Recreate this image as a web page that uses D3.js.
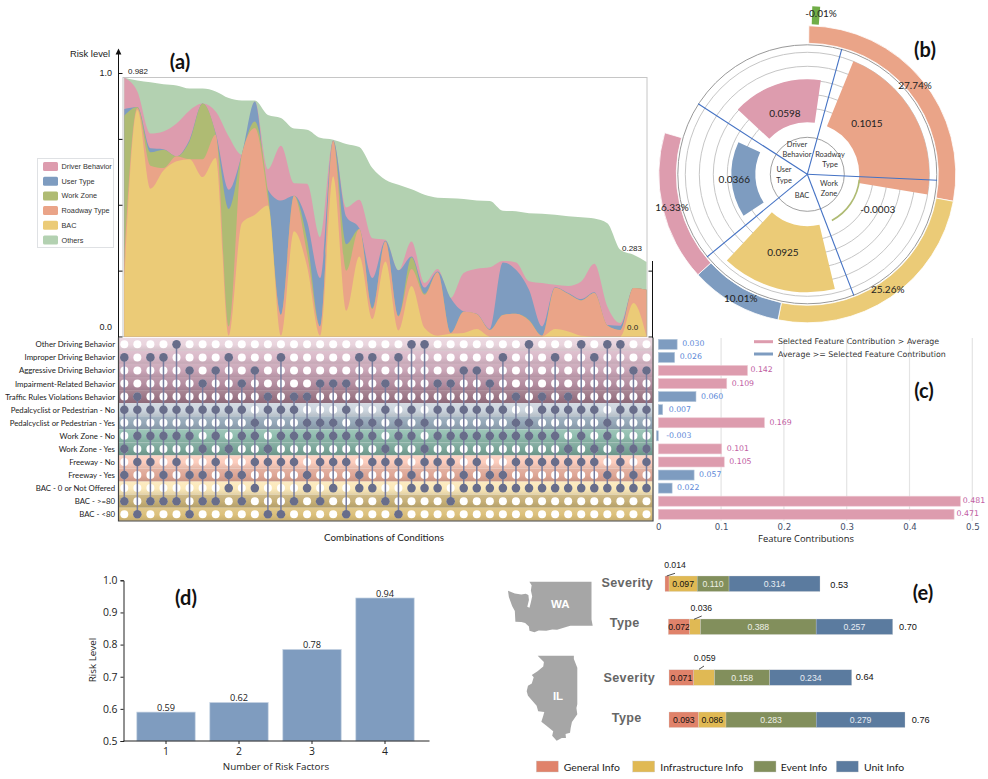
<!DOCTYPE html>
<html><head><meta charset="utf-8">
<script src="https://cdn.jsdelivr.net/npm/d3@7/dist/d3.min.js"></script>
<style>html,body{margin:0;padding:0;background:#fff}svg{display:block}</style>
</head><body><svg id="c" width="988" height="779"></svg>
<script>
// ---------- (a) stacked risk contributions: cumulative top of each layer per combination
const seriesNames = ["Driver Behavior","User Type","Work Zone","Roadway Type","BAC","Others"];
const othersTop = [.982,.972,.965,.957,.953,.941,.941,.930,.905,.896,.896,.841,.829,.789,.785,.754,.747,.731,.719,.639,.595,.576,.559,.538,.527,.525,.522,.516,.514,.477,.475,.468,.466,.462,.456,.453,.448,.430,.329,.310,.283];
const driverTop = [.982,.930,.770,.778,.808,.858,.884,.854,.759,.690,.892,.635,.724,.582,.580,.377,.744,.490,.519,.373,.367,.251,.361,.203,.256,.146,.241,.257,.263,.287,.281,.210,.203,.196,.192,.209,.276,.114,.051,.184,.177];
const userTop = [.863,.871,.714,.711,.684,.747,.884,.772,.557,.690,.892,.557,.516,.534,.437,.222,.744,.455,.411,.222,.363,.251,.304,.186,.247,.146,.095,.086,.028,.281,.253,.177,.038,.187,.165,.142,.168,.044,.041,.184,.177];
const workTop = [.838,.871,.699,.709,.684,.741,.884,.768,.484,.690,.816,.551,.082,.534,.367,.038,.741,.350,.408,.108,.361,.078,.301,.162,.244,.013,.094,.085,.025,.082,.086,.063,.003,.185,.162,.137,.165,.042,.025,.184,.177];
const roadTop = [.280,.867,.648,.639,.684,.673,.673,.766,.038,.690,.791,.519,.082,.534,.316,.038,.743,.250,.408,.104,.361,.076,.256,.158,.244,.013,.094,.085,.025,.082,.086,.061,.003,.185,.162,.137,.165,.042,.025,.184,.177];
const bacTop = [.220,.860,.561,.630,.665,.673,.605,.677,.003,.430,.462,.497,.003,.399,.266,.003,.608,.098,.304,.066,.285,.023,.192,.032,.003,.010,.013,.028,0,0,0,0,0,.028,.019,.003,0,0,0,.127,0];

// ---------- matrix of conditions: filled column indexes per row
const conditions = ["Other Driving Behavior","Improper Driving Behavior","Aggressive Driving Behavior","Impairment-Related Behavior","Traffic Rules Violations Behavior","Pedalcyclist or Pedestrian - No","Pedalcyclist or Pedestrian - Yes","Work Zone - No","Work Zone - Yes","Freeway - No","Freeway - Yes","BAC - 0 or Not Offered","BAC - >=80","BAC - <80"];
const filled = [
 [4,22,23,31,35,37,38],
 [0,2,3,8,12,18,19,21,29,33,36],
 [5,7,10,26,27,39,40],
 [6,9,15,16,17,20,24,25,28],
 [1,11,13,14,30,32,34],
 [0,1,2,3,4,5,6,7,8,9,11,12,13,17,20,22,24,25,26,27,28,29,32,33,34,35,36,38,39,40],
 [10,14,15,16,18,19,21,23,30,31,37],
 [1,2,3,4,5,7,9,10,12,13,14,15,16,17,18,19,21,22,24,25,26,27,28,29,30,31,32,33,35,37],
 [0,6,8,11,20,23,34,36,38,39,40],
 [1,2,4,7,10,11,12,13,15,16,17,19,20,21,23,24,25,27,30,31,32,33,34,35,36,38,40],
 [0,3,5,6,8,9,14,18,22,26,28,29,37,39],
 [8,10,14,16,18,19,22,23,24,26,27,28,29,30,31,32,33,34,35,36,37,38,39,40],
 [0,2,3,4,6,7,9,13,15,20,25],
 [1,5,11,12,17,21]
];
const columnCount = 41;

// ---------- (c)
const contributions = [.030,.026,.142,.109,.060,.007,.169,-.003,.101,.105,.057,.022,.481,.471];
const contribTicks = [0,.1,.2,.3,.4,.5];
const contribAvgFlag = [0,0,1,1,0,0,1,0,1,1,0,0,1,1];

// ---------- (b)
const polarNames = ["Roadway Type","Work Zone","BAC","User Type","Driver Behavior"];
const polarValues = [.1015,-.0003,.0925,.0366,.0598];
const ringShare = [27.74,25.26,10.01,16.33];
const ringTail = -0.01;

// ---------- (d)
const riskFactors = ["1","2","3","4"];
const riskLevels = [.59,.62,.785,.945];
const riskLabels = ["0.59","0.62","0.78","0.94"];

// ---------- (e)
const infoNames = ["General Info","Infrastructure Info","Event Info","Unit Info"];
const waSeverity = [.014,.097,.110,.314];
const waType = [.072,.036,.388,.257];
const ilSeverity = [.071,.059,.158,.234];
const ilType = [.093,.086,.283,.279];
const totals = ["0.53","0.70","0.64","0.76"];

// state outlines as [lon, lat]
const waOutline = [[-124.73,48.38],[-124.1,48.2],[-123.5,48.13],[-123.1,48.17],[-122.85,48.1],[-122.8,47.75],[-122.95,47.3],[-122.75,47.22],[-122.62,47.6],[-122.5,48.0],[-122.62,48.4],[-122.55,48.75],[-122.76,49.0],[-117.03,49.0],[-117.03,46.42],[-116.92,46.0],[-118.98,46.0],[-119.3,45.93],[-120.2,45.72],[-120.65,45.74],[-121.2,45.65],[-121.9,45.68],[-122.3,45.55],[-122.75,45.65],[-122.8,45.95],[-123.15,46.18],[-123.5,46.26],[-124.05,46.27],[-124.08,46.7],[-124.1,47.0],[-124.35,47.35],[-124.65,47.95]];
const ilOutline = [[-90.64,42.51],[-87.8,42.5],[-87.8,42.3],[-87.53,41.72],[-87.53,39.35],[-87.6,39.1],[-87.53,38.7],[-87.95,38.2],[-88.05,37.8],[-88.1,37.5],[-88.45,37.42],[-88.42,37.15],[-88.75,37.15],[-89.15,36.98],[-89.5,37.3],[-89.42,37.6],[-89.95,37.95],[-90.35,38.22],[-90.2,38.6],[-90.12,38.85],[-90.6,38.9],[-90.72,39.25],[-91.4,39.9],[-91.5,40.2],[-91.4,40.55],[-91.1,40.7],[-90.95,41.1],[-91.1,41.25],[-90.65,41.5],[-90.2,41.8],[-90.15,42.1]];

// ===========================================================
const svg = d3.select("#c");
const SANS = "'Liberation Sans',Arial,sans-serif", LATO = "Lato,sans-serif", OPEN = "'Open Sans',sans-serif", DJV = "'DejaVu Sans',sans-serif";
const COL = {driver:"#dd9cae",user:"#7e9cc0",work:"#afbb73",road:"#eaa488",bac:"#ebcb77",others:"#b3d1b1"};
function txt(x,y,s,size,font,opt={}){
  const t = svg.append("text").attr("x",x).attr("y",y).text(s)
   .attr("font-size",size).attr("font-family",font)
   .attr("fill",opt.fill||"#222").attr("text-anchor",opt.anchor||"start")
   .attr("dominant-baseline","central");
  if(opt.weight) t.attr("font-weight",opt.weight);
  if(opt.ls) t.attr("letter-spacing",opt.ls);
  return t;
}
[["(a)",180,61],["(b)",925,49],["(c)",924,390],["(d)",186,597],["(e)",923,592]].forEach(d=>txt(d[1],d[2],d[0],20,LATO,{weight:"bold",anchor:"middle",fill:"#111"}));

// ---- (a)
const xCol = d3.scaleLinear().domain([0,columnCount-1]).range([124.3,646.5]);
const yRisk = d3.scaleLinear().domain([0,1]).range([336.5,73]);
svg.append("rect").attr("x",123).attr("y",77.5).attr("width",524).attr("height",259).attr("fill","#fff").attr("stroke","#c6c6c6").attr("stroke-width",1);
const layers = [[othersTop,COL.others],[driverTop,COL.driver],[userTop,COL.user],[workTop,COL.work],[roadTop,COL.road],[bacTop,COL.bac]];
const area = d3.area().x((d,i)=>xCol(i)).y0(yRisk(0)).y1(d=>yRisk(d)).curve(d3.curveMonotoneX);
svg.append("g").selectAll("path").data(layers).join("path").attr("d",d=>area(d[0])).attr("fill",d=>d[1]);
const axA = svg.append("g").attr("transform","translate(118.5,0)")
  .call(d3.axisRight(yRisk).tickValues([0,.25,.5,.75,1]).tickSize(4).tickFormat(""));
axA.select(".domain").remove();
axA.selectAll("line").attr("stroke","#111");
svg.append("line").attr("x1",118.5).attr("x2",118.5).attr("y1",52).attr("y2",338).attr("stroke","#111").attr("stroke-width",1);
svg.append("path").attr("d",d3.line()([[118.5,48.5],[115.6,54.5],[121.4,54.5]])+"Z").attr("fill","#111");
const axR = svg.append("g").attr("transform","translate(652.5,0)")
  .call(d3.axisLeft(yRisk).tickValues([0,.25]).tickSize(4).tickFormat(""));
axR.select(".domain").remove(); axR.selectAll("line").attr("stroke","#111");
svg.append("line").attr("x1",652.5).attr("x2",652.5).attr("y1",261).attr("y2",338).attr("stroke","#111");
txt(70,53,"Risk level",9.4,SANS);
txt(112,73,"1.0",9,SANS,{anchor:"end"});
txt(112,327,"0.0",9,SANS,{anchor:"end"});
txt(128,71,"0.982",8,SANS);
txt(622,248,"0.283",8,SANS);
txt(627,327,"0.0",8,SANS);
// legend a
svg.append("rect").attr("x",37.5).attr("y",158.5).attr("width",76).attr("height",89).attr("fill","#fff").attr("stroke","#dfe1e4");
[COL.driver,COL.user,COL.work,COL.road,COL.bac,COL.others].forEach((c,i)=>{
  const y = 166+i*14.7;
  svg.append("rect").attr("x",43).attr("y",y-4).attr("width",15).attr("height",9).attr("rx",1.5).attr("fill",c);
  txt(61.5,y+.5,seriesNames[i],7.3,SANS,{fill:"#333"});
});

// ---- matrix
const rowBand = d3.scaleBand().domain(conditions).range([337.8,520.8]);
const rowColors = ["#e9d4dd","#d9b8c8","#c9a4b6","#b48da0","#9b7585","#ccd5de","#94a7b7","#8fbdae","#78a497","#fcccbc","#dea594","#fbe8b8","#c6af76","#dcc07a"];
const defs = svg.append("defs");
rowColors.forEach((c,i)=>{
  const g = defs.append("linearGradient").attr("id","rg"+i).attr("x1",0).attr("x2",0).attr("y1",0).attr("y2",1);
  const lite = d3.interpolateRgb(c,"#fff")(.15), dark = d3.interpolateRgb(c,"#000")(.1);
  g.append("stop").attr("offset","0%").attr("stop-color",lite);
  g.append("stop").attr("offset","55%").attr("stop-color",c);
  g.append("stop").attr("offset","100%").attr("stop-color",dark);
});
const rows = svg.append("g");
rows.selectAll("rect").data(conditions).join("rect")
  .attr("x",118.5).attr("width",534).attr("y",d=>rowBand(d)).attr("height",rowBand.bandwidth())
  .attr("fill",(d,i)=>`url(#rg${i})`);
svg.append("path").attr("d","M118.5,337.5V521H653V337.5").attr("fill","none").attr("stroke","#444").attr("stroke-width",1.2);
const yRow = d=>rowBand(d)+rowBand.bandwidth()/2;
const colIdx = d3.range(columnCount);
conditions.forEach((r,ri)=>{
  svg.append("g").selectAll("circle").data(colIdx).join("circle")
    .attr("cx",d=>xCol(d)).attr("cy",yRow(r)).attr("r",4).attr("fill","#fff");
});
colIdx.forEach(c=>{
  const rs = conditions.filter((r,i)=>filled[i].includes(c));
  const ys = rs.map(yRow);
  svg.append("line").attr("x1",xCol(c)).attr("x2",xCol(c)).attr("y1",d3.min(ys)).attr("y2",d3.max(ys)).attr("stroke","#777c9e").attr("stroke-width",1.5);
});
conditions.forEach((r,ri)=>{
  svg.append("g").selectAll("circle").data(filled[ri]).join("circle")
    .attr("cx",d=>xCol(d)).attr("cy",yRow(r)).attr("r",4.3).attr("fill","#686d8a");
  txt(115,yRow(r),r,7.8,LATO,{anchor:"end",fill:"#222"});
});
txt(384,536.5,"Combinations of Conditions",9.8,LATO,{anchor:"middle",fill:"#222"});

// ---- (c)
const xC = d3.scaleLinear().domain([0,.5]).range([658.3,972.3]);
svg.append("g").selectAll("line").data(contribTicks.slice(1)).join("line")
  .attr("x1",d=>xC(d)).attr("x2",d=>xC(d)).attr("y1",338).attr("y2",521).attr("stroke","#e4e4e4").attr("stroke-width",1.2);
const barsC = svg.append("g");
barsC.selectAll("rect").data(contributions).join("rect")
  .attr("x",d=>Math.min(xC(0),xC(d))).attr("width",d=>Math.abs(xC(d)-xC(0)))
  .attr("y",(d,i)=>yRow(conditions[i])-5).attr("height",10)
  .attr("fill",(d,i)=>contribAvgFlag[i]?COL.driver:COL.user)
  .attr("stroke",(d,i)=>contribAvgFlag[i]?"#edc9d3":"#b4c6da").attr("stroke-width",.6);
const cFmt = d3.format(".3f");
contributions.forEach((v,i)=>{
  const flag = contribAvgFlag[i];
  const gap = flag? (v>.4?2.5:(v<.11&&v>.1?5:(v>.15?5:3))) : (v>.03?5:(v>.02?5:(v<0?8:6)));
  txt(Math.max(xC(v),xC(0))+gap,yRow(conditions[i])-.5,cFmt(v).replace("−","-"),7.8,DJV,{fill:flag?"#c160a3":"#5c88d8"});
});
const axC = svg.append("g").attr("transform","translate(0,521)").call(d3.axisBottom(xC).tickValues(contribTicks).tickSize(0).tickPadding(3).tickFormat(d=>d===0?"0":d3.format(".1f")(d)));
axC.select(".domain").remove();
axC.selectAll("text").attr("font-family",DJV).attr("font-size",8.6).attr("fill","#44506a");
txt(806,538.5,"Feature Contributions",9.4,OPEN,{anchor:"middle",fill:"#222"});
[["Selected Feature Contribution > Average",COL.driver,341.7],["Average >= Selected Feature Contribution",COL.user,354]].forEach(d=>{
  svg.append("line").attr("x1",754).attr("x2",773).attr("y1",d[2]).attr("y2",d[2]).attr("stroke",d[1]).attr("stroke-width",3);
  txt(778,d[2],d[0],7.85,DJV,{fill:"#333"});
});

// ---- (b)
const cx=807.3, cy=174.3, rad=Math.PI/180;
const gB = svg.append("g").attr("transform",`translate(${cx},${cy})`);
gB.selectAll("circle.g").data([37,66,80,94,108,122,129.5]).join("circle").attr("class","g")
  .attr("r",d=>d).attr("fill","none").attr("stroke-width",d=>d===37?.8:1)
  .attr("stroke",d=>d===37?"#888":(d>125?"#999":"#c6c6c6"));
const rScale = d3.scaleLinear().domain([0,.0366,.0598,.0925,.1015]).range([52,76,95,118,122]);
const polarAngles = [[22.2,99.5],[96,152],[166.5,223],[237,295],[313,368.2]];
const polarFill = [COL.road,COL.work,COL.bac,COL.user,COL.driver];
const arc = d3.arc();
polarValues.forEach((v,i)=>{
  const outer = v<0 ? 53.2 : rScale(v), inner = v<0 ? 51.5 : 52;
  gB.append("path").attr("d",arc({innerRadius:inner,outerRadius:outer,startAngle:polarAngles[i][0]*rad,endAngle:polarAngles[i][1]*rad})).attr("fill",polarFill[i]);
});
[15.4,92.6,159,230.5,302.9].forEach(a=>{
  gB.append("line").attr("x1",0).attr("y1",0).attr("x2",130*Math.sin(a*rad)).attr("y2",-130*Math.cos(a*rad)).attr("stroke","#4472c4").attr("stroke-width",1.1);
});
const ringFill=[COL.road,COL.bac,COL.user,COL.driver];
let acc=.6;
ringShare.forEach((p,i)=>{
  const a0=acc, a1=acc+p*3.6; acc=a1;
  gB.append("path").attr("d",arc({innerRadius:131,outerRadius:148.5,startAngle:a0*rad,endAngle:a1*rad})).attr("fill",ringFill[i]).attr("stroke","#fff").attr("stroke-width",.8);
});
gB.append("path").attr("d",arc({innerRadius:150,outerRadius:168,startAngle:1.7*rad,endAngle:4.4*rad})).attr("fill","#70ad47");
[["Driver",797,144],["Behavior",797,154],["Roadway",830,154],["Type",830,164],["User",784,169],["Type",784,180],["Work",829,183],["Zone",829,193],["BAC",802,195]].forEach(d=>txt(d[1],d[2],d[0],7.4,LATO,{anchor:"middle",fill:"#333"}));
[[polarValues[4],785,112.7],[polarValues[0],867,123],[polarValues[1],877.7,209],[polarValues[2],783,252],[polarValues[3],734.3,179]].forEach(d=>txt(d[1],d[2],d3.format(".4f")(d[0]).replace("−","-"),10,LATO,{anchor:"middle",fill:"#222"}));
[[ringShare[0],915,84.7],[ringShare[1],887.7,289.3],[ringShare[2],740.7,297.7],[ringShare[3],672,207.3],[ringTail,821,13.3]].forEach(d=>txt(d[1],d[2],d3.format(".2f")(d[0]).replace("−","-")+"%",10,LATO,{anchor:"middle",fill:"#222"}));

// ---- (d)
const xD = d3.scaleBand().domain(riskFactors).range([129.5,421.5]).paddingInner(.2).paddingOuter(.1);
const yD = d3.scaleLinear().domain([.5,1]).range([741,580.3]);
svg.append("g").selectAll("rect").data(riskLevels).join("rect")
  .attr("x",(d,i)=>xD(riskFactors[i])).attr("width",xD.bandwidth())
  .attr("y",d=>yD(d)).attr("height",d=>yD(.5)-yD(d))
  .attr("fill","#7f9cbf").attr("stroke","#c8d5e4").attr("stroke-width",.7);
const axDy = svg.append("g").attr("transform","translate(123.5,0)").call(d3.axisLeft(yD).tickValues([.5,.6,.7,.8,.9,1]).tickSize(3).tickPadding(3).tickFormat(d3.format(".1f")));
const axDx = svg.append("g").attr("transform","translate(0,741)").call(d3.axisBottom(xD).tickSize(3).tickPadding(4));
axDx.select(".domain").attr("d","M123.5,0H429.5");
[axDy,axDx].forEach(a=>{a.selectAll("text").attr("font-family",OPEN).attr("font-size",10.4).attr("fill","#222");a.selectAll("line,path").attr("stroke","#222");});
riskLabels.forEach((l,i)=>txt(xD(riskFactors[i])+xD.bandwidth()/2,yD(riskLevels[i])-4.5,l,9.2,OPEN,{anchor:"middle",fill:"#222"}));
txt(276,766.5,"Number of Risk Factors",9.8,OPEN,{anchor:"middle",fill:"#222"});
txt(0,0,"Risk Level",9.8,OPEN,{anchor:"middle",fill:"#222"}).attr("transform","translate(92.3,660) rotate(-90)");

// ---- (e)
const infoFill = ["#e0826a","#e0b954","#828f5c","#5b7b9f"];
const infoText = ["#111","#111","#eef0e6","#e8edf3"];
const rowsE = [
 {v:waSeverity,x0:665,x1:820,y:576,hide:[1,0,0,0]},
 {v:waType,x0:668.3,x1:892.7,y:619,hide:[0,1,0,0]},
 {v:ilSeverity,x0:669,x1:851.7,y:669.8,hide:[0,1,0,0]},
 {v:ilType,x0:669,x1:905,y:712,hide:[0,0,0,0]}
];
const fmt3=d3.format(".3f");
rowsE.forEach(row=>{
  const sc = d3.scaleLinear().domain([0,d3.sum(row.v)]).range([row.x0,row.x1]);
  const sums = d3.cumsum(row.v);
  row.v.forEach((v,i)=>{
    const a = i?sums[i-1]:0, b = sums[i];
    svg.append("rect").attr("x",sc(a)).attr("width",sc(b)-sc(a)).attr("y",row.y).attr("height",15.5)
      .attr("fill",infoFill[i]).attr("stroke","#d8d8d8").attr("stroke-width",.3);
    if(!row.hide[i]) txt((sc(a)+sc(b))/2,row.y+8,fmt3(v),8.7,SANS,{anchor:"middle",fill:infoText[i]});
  });
});
[[waSeverity[0],675,565,666.7,576,675,573.3],[waType[1],701.3,608.3,694,619.3,701.7,616],[ilSeverity[1],704.7,657.7,699,669.3,704,666]].forEach(d=>{
  txt(d[1],d[2],fmt3(d[0]),8.7,SANS,{anchor:"middle",fill:"#222"});
  svg.append("line").attr("x1",d[3]).attr("y1",d[4]).attr("x2",d[5]).attr("y2",d[6]).attr("stroke","#222").attr("stroke-width",.8);
});
[[839.3,585],[908,627],[864.7,677],[920.7,720]].forEach((p,i)=>txt(p[0],p[1],totals[i],9.2,SANS,{anchor:"middle",fill:"#111"}));
[["Severity",627.3,583],["Type",624.7,623.3],["Severity",629.3,677.7],["Type",626.7,718.3]].forEach(d=>
  txt(d[1],d[2],d[0],12.6,SANS,{anchor:"middle",weight:"bold",fill:"#666",ls:.3}));
function drawState(outline,x0,x1,y0,y1,label,lx,ly){
  const sx = d3.scaleLinear().domain(d3.extent(outline,d=>d[0])).range([x0,x1]);
  const sy = d3.scaleLinear().domain(d3.extent(outline,d=>d[1])).range([y1,y0]);
  const path = d3.geoPath(d3.geoTransform({point(x,y){this.stream.point(sx(x),sy(y));}}));
  svg.append("path").attr("d",path({type:"Polygon",coordinates:[[...outline,outline[0]].reverse()]})).attr("fill","#a6a6a6");
  txt(lx,ly,label,11.5,SANS,{anchor:"middle",weight:"bold",fill:"#fff"});
}
drawState(waOutline,508,592.7,581.7,632.3,"WA",560.3,604);
drawState(ilOutline,526.7,577.3,655.7,740.7,"IL",558,696);
[[536.3,563.7],[632.7,660.3],[754,780.7],[836.3,864]].forEach((p,i)=>{
  svg.append("rect").attr("x",p[0]).attr("y",761).attr("width",22).attr("height",11).attr("fill",infoFill[i]).attr("stroke","#ccc").attr("stroke-width",.4);
  txt(p[1],766.7,infoNames[i],10.4,LATO,{fill:"#222"});
});
</script></body></html>
